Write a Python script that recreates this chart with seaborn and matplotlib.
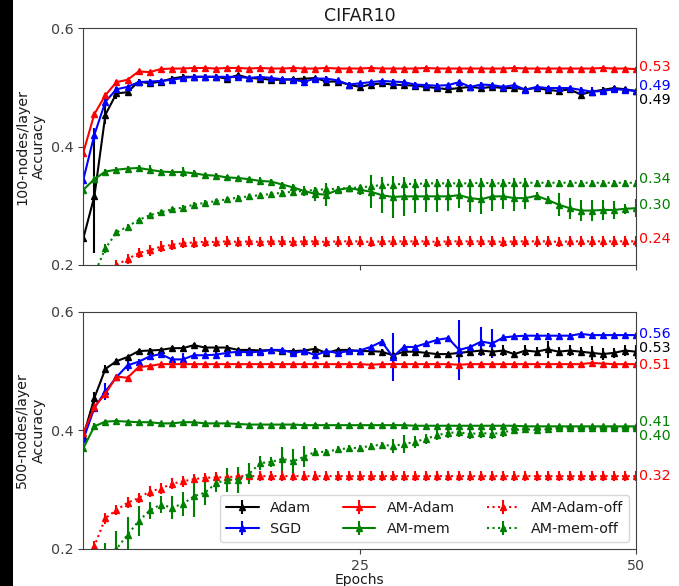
import matplotlib
matplotlib.use('Agg')
import matplotlib.pyplot as plt
from matplotlib.patches import Rectangle
import numpy as np
import seaborn as sns

sns.set_style('ticks')
plt.rcParams['font.family'] = ['DejaVu Sans']
plt.rcParams['font.size'] = 10.3
plt.rcParams['axes.edgecolor'] = '0.25'
plt.rcParams['xtick.color'] = '0.25'
plt.rcParams['ytick.color'] = '0.25'
plt.rcParams['text.color'] = '0.1'
plt.rcParams['axes.labelcolor'] = '0.1'

epochs = np.arange(0, 51)

labels = ['Adam', 'SGD', 'AM-Adam', 'AM-mem', 'AM-Adam-off', 'AM-mem-off']
colors = ['black', 'blue', 'red', 'green', 'red', 'green']
linestyles = ['-', '-', '-', '-', ':', ':']

# ---- 100 nodes/layer ----
top_adam = [0.245, 0.316, 0.454, 0.490, 0.492, 0.510, 0.507, 0.510, 0.515, 0.518,
            0.518, 0.518, 0.518, 0.515, 0.521, 0.516, 0.515, 0.513, 0.513, 0.514,
            0.515, 0.516, 0.510, 0.510, 0.505, 0.501, 0.505, 0.507, 0.505, 0.504,
            0.503, 0.501, 0.499, 0.497, 0.499, 0.501, 0.499, 0.501, 0.499, 0.499,
            0.497, 0.499, 0.496, 0.494, 0.497, 0.488, 0.493, 0.496, 0.499, 0.497,
            0.494]
top_adam_err = [0.020, 0.096, 0.015, 0.010, 0.006, 0.004, 0.004, 0.004, 0.004, 0.004,
                0.004, 0.004, 0.004, 0.004, 0.004, 0.004, 0.004, 0.004, 0.004, 0.004,
                0.004, 0.004, 0.004, 0.004, 0.004, 0.004, 0.004, 0.004, 0.004, 0.004,
                0.004, 0.004, 0.004, 0.004, 0.004, 0.004, 0.004, 0.004, 0.004, 0.004,
                0.004, 0.004, 0.004, 0.004, 0.004, 0.006, 0.004, 0.004, 0.004, 0.004,
                0.004]
top_sgd = [0.344, 0.420, 0.476, 0.497, 0.501, 0.509, 0.510, 0.511, 0.513, 0.516,
           0.518, 0.518, 0.518, 0.518, 0.518, 0.516, 0.518, 0.516, 0.514, 0.513,
           0.510, 0.515, 0.515, 0.512, 0.505, 0.507, 0.509, 0.511, 0.510, 0.509,
           0.505, 0.504, 0.503, 0.504, 0.509, 0.501, 0.505, 0.504, 0.501, 0.504,
           0.496, 0.501, 0.499, 0.499, 0.499, 0.496, 0.493, 0.494, 0.497, 0.496,
           0.494]
top_sgd_err = [0.030, 0.012, 0.006, 0.004, 0.004, 0.004, 0.004, 0.004, 0.004, 0.004,
               0.004, 0.004, 0.004, 0.004, 0.004, 0.004, 0.004, 0.004, 0.004, 0.004,
               0.004, 0.004, 0.004, 0.004, 0.004, 0.004, 0.004, 0.004, 0.004, 0.004,
               0.004, 0.004, 0.004, 0.004, 0.004, 0.004, 0.004, 0.004, 0.004, 0.004,
               0.004, 0.004, 0.004, 0.004, 0.004, 0.004, 0.008, 0.004, 0.004, 0.004,
               0.004]
top_am_adam = [0.390, 0.455, 0.487, 0.509, 0.513, 0.527, 0.526, 0.531, 0.532, 0.532,
               0.533, 0.533, 0.532, 0.533, 0.533, 0.532, 0.533, 0.532, 0.532, 0.533,
               0.532, 0.532, 0.533, 0.532, 0.532, 0.532, 0.533, 0.532, 0.532, 0.532,
               0.532, 0.533, 0.532, 0.532, 0.532, 0.532, 0.532, 0.532, 0.532, 0.533,
               0.532, 0.532, 0.532, 0.532, 0.532, 0.532, 0.532, 0.533, 0.532, 0.532,
               0.531]
top_am_adam_err = [0.020, 0.004, 0.003, 0.003, 0.003, 0.003, 0.003, 0.003, 0.003, 0.003,
                   0.003, 0.003, 0.003, 0.003, 0.003, 0.003, 0.003, 0.003, 0.003, 0.003,
                   0.003, 0.003, 0.003, 0.003, 0.003, 0.003, 0.003, 0.003, 0.003, 0.003,
                   0.003, 0.003, 0.003, 0.003, 0.003, 0.003, 0.003, 0.003, 0.003, 0.003,
                   0.003, 0.003, 0.003, 0.003, 0.003, 0.003, 0.003, 0.003, 0.003, 0.003,
                   0.003]
top_am_mem = [0.327, 0.345, 0.358, 0.361, 0.363, 0.364, 0.361, 0.358, 0.357, 0.357,
              0.355, 0.352, 0.351, 0.348, 0.347, 0.345, 0.342, 0.341, 0.336, 0.331,
              0.325, 0.320, 0.319, 0.327, 0.330, 0.327, 0.324, 0.318, 0.315, 0.316,
              0.316, 0.316, 0.316, 0.316, 0.318, 0.313, 0.311, 0.316, 0.316, 0.313,
              0.313, 0.317, 0.310, 0.302, 0.296, 0.292, 0.292, 0.293, 0.293, 0.295,
              0.296]
top_am_mem_err = [0.010, 0.005, 0.004, 0.004, 0.004, 0.005, 0.008, 0.004, 0.004, 0.008,
                  0.006, 0.004, 0.004, 0.004, 0.004, 0.004, 0.006, 0.004, 0.004, 0.006,
                  0.008, 0.012, 0.020, 0.006, 0.004, 0.008, 0.028, 0.030, 0.035, 0.033,
                  0.028, 0.027, 0.026, 0.025, 0.022, 0.023, 0.025, 0.024, 0.022, 0.022,
                  0.018, 0.006, 0.006, 0.020, 0.018, 0.018, 0.018, 0.017, 0.015, 0.008,
                  0.015]
top_am_adam_off = [0.140, 0.165, 0.190, 0.200, 0.210, 0.220, 0.225, 0.231, 0.234, 0.237,
                   0.238, 0.239, 0.239, 0.240, 0.239, 0.240, 0.239, 0.240, 0.240, 0.239,
                   0.240, 0.240, 0.239, 0.240, 0.240, 0.240, 0.239, 0.240, 0.240, 0.240,
                   0.240, 0.240, 0.239, 0.240, 0.240, 0.240, 0.240, 0.240, 0.239, 0.240,
                   0.240, 0.240, 0.240, 0.239, 0.240, 0.240, 0.240, 0.240, 0.240, 0.240,
                   0.240]
top_am_adam_off_err = [0.009, 0.009, 0.009, 0.009, 0.009, 0.009, 0.009, 0.009, 0.009, 0.009,
                       0.009, 0.009, 0.009, 0.009, 0.009, 0.009, 0.009, 0.009, 0.009, 0.009,
                       0.009, 0.009, 0.009, 0.009, 0.009, 0.009, 0.009, 0.009, 0.009, 0.009,
                       0.009, 0.009, 0.009, 0.009, 0.009, 0.009, 0.009, 0.009, 0.009, 0.009,
                       0.009, 0.009, 0.009, 0.009, 0.009, 0.009, 0.009, 0.009, 0.009, 0.009,
                       0.009]
top_am_mem_off = [0.150, 0.185, 0.228, 0.255, 0.265, 0.276, 0.284, 0.289, 0.294, 0.297,
                  0.302, 0.305, 0.308, 0.311, 0.314, 0.316, 0.318, 0.320, 0.322, 0.324,
                  0.325, 0.327, 0.328, 0.329, 0.330, 0.331, 0.333, 0.335, 0.336, 0.337,
                  0.337, 0.338, 0.338, 0.338, 0.338, 0.338, 0.339, 0.338, 0.338, 0.339,
                  0.339, 0.339, 0.339, 0.339, 0.339, 0.339, 0.339, 0.339, 0.339, 0.339,
                  0.339]
top_am_mem_off_err = [0.010, 0.010, 0.008, 0.004, 0.004, 0.004, 0.004, 0.004, 0.004, 0.004,
                      0.004, 0.004, 0.004, 0.004, 0.004, 0.004, 0.004, 0.004, 0.004, 0.004,
                      0.004, 0.004, 0.004, 0.004, 0.004, 0.004, 0.008, 0.008, 0.008, 0.008,
                      0.008, 0.008, 0.008, 0.008, 0.008, 0.008, 0.008, 0.008, 0.008, 0.008,
                      0.008, 0.004, 0.004, 0.004, 0.004, 0.004, 0.004, 0.004, 0.004, 0.004,
                      0.004]

# ---- 500 nodes/layer ----
bot_adam = [0.390, 0.455, 0.504, 0.517, 0.524, 0.534, 0.535, 0.536, 0.539, 0.539,
            0.544, 0.540, 0.540, 0.540, 0.536, 0.536, 0.535, 0.536, 0.534, 0.534,
            0.535, 0.538, 0.531, 0.536, 0.536, 0.534, 0.534, 0.533, 0.527, 0.533,
            0.533, 0.531, 0.529, 0.529, 0.531, 0.533, 0.535, 0.533, 0.535, 0.529,
            0.535, 0.533, 0.537, 0.533, 0.535, 0.533, 0.531, 0.529, 0.531, 0.535,
            0.533]
bot_adam_err = [0.010, 0.010, 0.006, 0.004, 0.004, 0.004, 0.004, 0.004, 0.004, 0.004,
                0.004, 0.004, 0.004, 0.004, 0.004, 0.004, 0.004, 0.004, 0.004, 0.004,
                0.004, 0.004, 0.004, 0.004, 0.004, 0.004, 0.004, 0.004, 0.006, 0.004,
                0.004, 0.004, 0.004, 0.004, 0.004, 0.004, 0.008, 0.006, 0.010, 0.006,
                0.010, 0.008, 0.014, 0.008, 0.010, 0.008, 0.012, 0.010, 0.008, 0.010,
                0.012]
bot_sgd = [0.385, 0.438, 0.466, 0.490, 0.510, 0.516, 0.525, 0.529, 0.520, 0.520,
           0.527, 0.527, 0.528, 0.531, 0.533, 0.532, 0.533, 0.536, 0.536, 0.531,
           0.534, 0.527, 0.534, 0.531, 0.534, 0.535, 0.541, 0.550, 0.524, 0.541,
           0.541, 0.547, 0.553, 0.556, 0.536, 0.541, 0.550, 0.547, 0.557, 0.559,
           0.560, 0.560, 0.560, 0.560, 0.560, 0.563, 0.561, 0.561, 0.561, 0.561,
           0.561]
bot_sgd_err = [0.020, 0.006, 0.015, 0.004, 0.010, 0.004, 0.004, 0.004, 0.004, 0.010,
               0.004, 0.004, 0.004, 0.004, 0.004, 0.004, 0.004, 0.004, 0.004, 0.004,
               0.004, 0.004, 0.004, 0.004, 0.004, 0.004, 0.004, 0.004, 0.040, 0.004,
               0.004, 0.004, 0.004, 0.004, 0.050, 0.004, 0.025, 0.025, 0.004, 0.004,
               0.004, 0.004, 0.004, 0.004, 0.004, 0.004, 0.004, 0.004, 0.004, 0.004,
               0.004]
bot_am_adam = [0.395, 0.440, 0.462, 0.491, 0.489, 0.507, 0.509, 0.512, 0.512, 0.512,
               0.512, 0.512, 0.512, 0.512, 0.512, 0.512, 0.512, 0.512, 0.512, 0.512,
               0.512, 0.512, 0.512, 0.512, 0.512, 0.512, 0.511, 0.512, 0.512, 0.512,
               0.512, 0.512, 0.512, 0.512, 0.511, 0.512, 0.512, 0.512, 0.512, 0.512,
               0.512, 0.512, 0.512, 0.512, 0.512, 0.512, 0.514, 0.513, 0.512, 0.512,
               0.512]
bot_am_adam_err = [0.020, 0.006, 0.004, 0.003, 0.003, 0.003, 0.003, 0.003, 0.003, 0.003,
                   0.003, 0.003, 0.003, 0.003, 0.003, 0.003, 0.003, 0.003, 0.003, 0.003,
                   0.003, 0.003, 0.003, 0.003, 0.003, 0.003, 0.003, 0.003, 0.003, 0.003,
                   0.003, 0.003, 0.003, 0.003, 0.003, 0.003, 0.003, 0.003, 0.003, 0.003,
                   0.003, 0.003, 0.003, 0.003, 0.003, 0.003, 0.003, 0.003, 0.003, 0.003,
                   0.003]
bot_am_mem = [0.370, 0.407, 0.415, 0.416, 0.415, 0.414, 0.414, 0.412, 0.412, 0.414,
              0.414, 0.412, 0.412, 0.412, 0.411, 0.410, 0.410, 0.410, 0.410, 0.410,
              0.409, 0.409, 0.409, 0.409, 0.409, 0.409, 0.409, 0.409, 0.409, 0.409,
              0.408, 0.408, 0.408, 0.408, 0.408, 0.408, 0.408, 0.408, 0.408, 0.408,
              0.407, 0.407, 0.407, 0.407, 0.407, 0.407, 0.407, 0.407, 0.407, 0.407,
              0.407]
bot_am_mem_err = [0.040, 0.006, 0.003, 0.003, 0.003, 0.003, 0.003, 0.003, 0.003, 0.003,
                  0.003, 0.003, 0.003, 0.003, 0.003, 0.003, 0.003, 0.003, 0.003, 0.003,
                  0.003, 0.003, 0.003, 0.003, 0.003, 0.003, 0.003, 0.003, 0.003, 0.003,
                  0.003, 0.003, 0.003, 0.003, 0.003, 0.003, 0.003, 0.003, 0.003, 0.003,
                  0.003, 0.003, 0.003, 0.003, 0.003, 0.003, 0.003, 0.003, 0.003, 0.003,
                  0.003]
bot_am_adam_off = [0.150, 0.205, 0.252, 0.266, 0.278, 0.286, 0.297, 0.302, 0.310, 0.314,
                   0.318, 0.320, 0.321, 0.321, 0.323, 0.323, 0.323, 0.323, 0.323, 0.323,
                   0.323, 0.323, 0.323, 0.323, 0.323, 0.323, 0.323, 0.323, 0.323, 0.323,
                   0.323, 0.323, 0.323, 0.323, 0.323, 0.323, 0.323, 0.323, 0.323, 0.323,
                   0.323, 0.323, 0.323, 0.323, 0.323, 0.323, 0.323, 0.323, 0.323, 0.323,
                   0.323]
bot_am_adam_off_err = [0.010, 0.009, 0.009, 0.009, 0.009, 0.009, 0.009, 0.009, 0.009, 0.009,
                       0.009, 0.009, 0.009, 0.009, 0.009, 0.009, 0.009, 0.009, 0.009, 0.009,
                       0.009, 0.009, 0.009, 0.009, 0.009, 0.009, 0.009, 0.009, 0.009, 0.009,
                       0.009, 0.009, 0.009, 0.009, 0.009, 0.009, 0.009, 0.009, 0.009, 0.009,
                       0.009, 0.009, 0.009, 0.009, 0.009, 0.009, 0.009, 0.009, 0.009, 0.009,
                       0.009]
bot_am_mem_off = [0.160, 0.180, 0.190, 0.200, 0.224, 0.247, 0.265, 0.275, 0.270, 0.276,
                  0.289, 0.295, 0.311, 0.317, 0.317, 0.327, 0.345, 0.347, 0.352, 0.348,
                  0.356, 0.364, 0.364, 0.368, 0.370, 0.371, 0.374, 0.376, 0.374, 0.377,
                  0.381, 0.386, 0.392, 0.396, 0.397, 0.394, 0.396, 0.394, 0.397, 0.401,
                  0.402, 0.401, 0.402, 0.404, 0.404, 0.404, 0.404, 0.404, 0.404, 0.404,
                  0.404]
bot_am_mem_off_err = [0.010, 0.015, 0.020, 0.030, 0.030, 0.025, 0.015, 0.015, 0.020, 0.020,
                      0.035, 0.020, 0.015, 0.020, 0.022, 0.018, 0.012, 0.008, 0.020, 0.020,
                      0.018, 0.006, 0.005, 0.005, 0.005, 0.005, 0.005, 0.005, 0.012, 0.015,
                      0.010, 0.008, 0.008, 0.008, 0.008, 0.008, 0.008, 0.008, 0.008, 0.004,
                      0.004, 0.004, 0.004, 0.004, 0.004, 0.004, 0.004, 0.004, 0.004, 0.004,
                      0.004]

top_series = [top_adam, top_sgd, top_am_adam, top_am_mem, top_am_adam_off, top_am_mem_off]
top_errors = [top_adam_err, top_sgd_err, top_am_adam_err, top_am_mem_err,
              top_am_adam_off_err, top_am_mem_off_err]
bot_series = [bot_adam, bot_sgd, bot_am_adam, bot_am_mem, bot_am_adam_off, bot_am_mem_off]
bot_errors = [bot_adam_err, bot_sgd_err, bot_am_adam_err, bot_am_mem_err,
              bot_am_adam_off_err, bot_am_mem_off_err]

# vertical nudges (pixels) for the end-value labels so they don't collide
top_nudge = [-8.7, 5.3, 2.3, 3.3, 2.3, 3.3]
bot_nudge = [3.7, 1.3, -0.4, 4.3, -0.3, -7.4]


def draw_panel(ax, series, errors, nudges, ylabel):
    for y, err, lab, c, ls, dy in zip(series, errors, labels, colors, linestyles, nudges):
        ax.errorbar(epochs, y, yerr=err, color=c, linestyle=ls, marker='^', markersize=4.5,
                    linewidth=1.5, elinewidth=1.5, capsize=0, label=lab)
        ax.annotate(f'{y[-1]:.2f}', xy=(epochs[-1], y[-1]), xytext=(3, dy),
                    textcoords='offset pixels', color=c, va='center', ha='left',
                    fontsize=10.3, annotation_clip=False)
    ax.set_xlim(0, 50)
    ax.set_ylim(0.2, 0.6)
    ax.set_yticks([0.2, 0.4, 0.6])
    ax.set_xticks([25, 50])
    ax.set_ylabel(ylabel)
    ax.tick_params(length=3.5, width=0.8)
    for s in ax.spines.values():
        s.set_linewidth(0.8)


fig = plt.figure(figsize=(6.79, 5.86), dpi=100)
W, H = 679, 586
ax1 = fig.add_axes([83.3 / W, 1 - 265 / H, (636 - 83.3) / W, (265 - 28.3) / H])
ax2 = fig.add_axes([83.3 / W, 1 - 549 / H, (636 - 83.3) / W, (549 - 312) / H])

draw_panel(ax1, top_series, top_errors, top_nudge, '100-nodes/layer\nAccuracy')
draw_panel(ax2, bot_series, bot_errors, bot_nudge, '500-nodes/layer\nAccuracy')

ax1.set_xticklabels([])
ax1.set_title('CIFAR10', fontsize=12.5, pad=5)
ax2.set_xlabel('Epochs', labelpad=0.2, fontsize=10)

ax2.legend(ncol=3, loc='lower right', frameon=True, fontsize=10.3,
           handlelength=2.3, columnspacing=2.2)

# dark strip on the left edge of the original screenshot
fig.add_artist(Rectangle((0, 0), 13 / W, 1, transform=fig.transFigure,
                         facecolor='black', edgecolor='none'))

fig.savefig('out.png', dpi=100)
